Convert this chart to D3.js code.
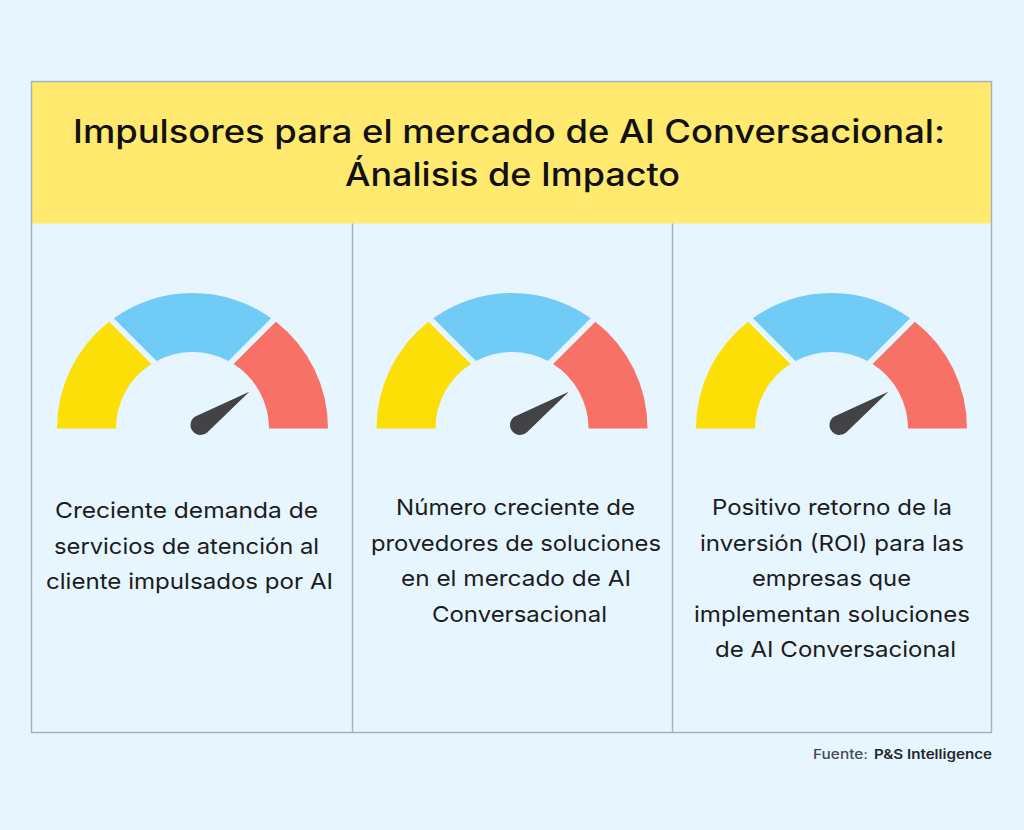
<!DOCTYPE html>
<html>
<head>
<meta charset="utf-8">
<script src="https://cdn.jsdelivr.net/npm/d3@7"></script>
<style>
  html, body { margin: 0; padding: 0; background: #e7f6fe; }
  svg { display: block; }
  text { font-family: Inter, sans-serif; }
</style>
</head>
<body>
<div id="chart"></div>
<script>
const titleLines = ["Impulsores para el mercado de AI Conversacional:", "Ánalisis de Impacto"];
const panelTexts = [
  ["Creciente demanda de", "servicios de atención al", "cliente impulsados por AI"],
  ["Número creciente de", "provedores de soluciones", "en el mercado de AI", "Conversacional"],
  ["Positivo retorno de la", "inversión (ROI) para las", "empresas que", "implementan soluciones", "de AI Conversacional"]
];
const panels = [0, 1, 2];
const needleValues = [81, 81, 81];
const segmentColors = ["#fbdf07", "#70cbf6", "#f77166"];
// gauge segment edges in degrees from vertical, outer and inner rim differ
const outerStart = [-90, -35.5, 38];
const outerEnd = [-38, 35.5, 90];
const innerStart = [-90, -28, 32.5];
const innerEnd = [-32.5, 28, 90];
const sourceLabel = "Fuente:";
const sourceName = "P&S Intelligence";

// measured text extents, the original font is wider than anything installed
const titleExtents = [[73, 945], [345, 680]];
const panelExtents = [
  [[55, 318], [54, 319], [46, 333]],
  [[396, 635], [371, 661], [401, 631], [432, 607]],
  [[712, 952], [700, 964], [752, 911], [694, 970], [715, 956]]
];
const panelBaseline = [518, 515, 515];

const width = 1024;
const height = 830;
const bg = "#e7f6fe";
const lineCol = "#a3b1c2";
const dividerX = [352.5, 672.5];

const svg = d3.select("#chart").append("svg")
  .attr("width", width)
  .attr("height", height);

svg.append("rect").attr("width", width).attr("height", height).attr("fill", bg);

// frame and header
svg.append("rect")
  .attr("x", 31.5).attr("y", 81.5)
  .attr("width", 960).attr("height", 142)
  .attr("fill", "#ffe96e");
svg.append("rect")
  .attr("x", 31.5).attr("y", 81.5)
  .attr("width", 960).attr("height", 651)
  .attr("fill", "none")
  .attr("stroke", lineCol)
  .attr("stroke-width", 1.4);
svg.selectAll(".divider")
  .data(dividerX)
  .enter()
  .append("line")
  .attr("class", "divider")
  .attr("x1", d => d)
  .attr("x2", d => d)
  .attr("y1", 223.5)
  .attr("y2", 732.5)
  .attr("stroke", lineCol)
  .attr("stroke-width", 1.4);

svg.selectAll(".title")
  .data(titleLines)
  .enter()
  .append("text")
  .attr("class", "title")
  .attr("x", (d, i) => titleExtents[i][0])
  .attr("y", (d, i) => 143 + i * 43)
  .attr("textLength", (d, i) => titleExtents[i][1] - titleExtents[i][0])
  .attr("lengthAdjust", "spacingAndGlyphs")
  .attr("font-size", 32)
  .attr("font-weight", 500)
  .attr("fill", "#111114")
  .text(d => d);

// gauges
const gaugeX = d3.scaleLinear().domain([0, 2]).range([192.5, 831.5]);
const gaugeY = 428.5;
const outerR = 135.5;
const innerR = 76.5;
const valueAngle = d3.scaleLinear().domain([0, 100]).range([-90, 90]);
const polar = (deg, r) => {
  const a = (deg - 90) * Math.PI / 180;
  return [r * Math.cos(a), r * Math.sin(a)];
};
const rad = deg => (deg - 90) * Math.PI / 180;

function segmentPath(i) {
  const p = d3.path();
  p.moveTo(...polar(outerStart[i], outerR));
  p.arc(0, 0, outerR, rad(outerStart[i]), rad(outerEnd[i]));
  p.lineTo(...polar(innerEnd[i], innerR));
  p.arc(0, 0, innerR, rad(innerEnd[i]), rad(innerStart[i]), true);
  p.closePath();
  return p.toString();
}

function needlePath(len, r) {
  // round base with tangents running to the tip, pointing up
  const t = Math.acos(r / len);
  const p = d3.path();
  p.moveTo(0, -len);
  p.lineTo(r * Math.sin(t), -r * Math.cos(t));
  p.arc(0, 0, r, -Math.PI / 2 + t, -Math.PI / 2 - t + 2 * Math.PI);
  p.closePath();
  return p.toString();
}

const gauges = svg.selectAll(".gauge")
  .data(panels)
  .enter()
  .append("g")
  .attr("class", "gauge")
  .attr("transform", d => `translate(${gaugeX(d)},${gaugeY})`);

gauges.selectAll("path.seg")
  .data(segmentColors)
  .enter()
  .append("path")
  .attr("class", "seg")
  .attr("d", (d, i) => segmentPath(i))
  .attr("fill", d => d);

gauges.append("path")
  .attr("d", needlePath(59, 10))
  .attr("fill", "#434347")
  .attr("transform", d => `translate(8,-3.5) rotate(${valueAngle(needleValues[d])})`);

// panel captions
panels.forEach(p => {
  svg.selectAll(".cap" + p)
    .data(panelTexts[p])
    .enter()
    .append("text")
    .attr("class", "cap" + p)
    .attr("x", (d, i) => panelExtents[p][i][0])
    .attr("y", (d, i) => panelBaseline[p] + i * 35.5)
    .attr("textLength", (d, i) => panelExtents[p][i][1] - panelExtents[p][i][0])
    .attr("lengthAdjust", "spacingAndGlyphs")
    .attr("font-size", 22)
    .attr("fill", "#1c1c20")
    .text(d => d);
});

// source
svg.append("text")
  .attr("x", 813).attr("y", 759)
  .attr("textLength", 55)
  .attr("lengthAdjust", "spacingAndGlyphs")
  .attr("font-size", 13)
  .attr("font-weight", 500)
  .attr("fill", "#4a4a50")
  .text(sourceLabel);
svg.append("text")
  .attr("x", 874).attr("y", 759)
  .attr("textLength", 118)
  .attr("lengthAdjust", "spacingAndGlyphs")
  .attr("font-size", 13)
  .attr("font-weight", 600)
  .attr("fill", "#26262a")
  .text(sourceName);
</script>
</body>
</html>
